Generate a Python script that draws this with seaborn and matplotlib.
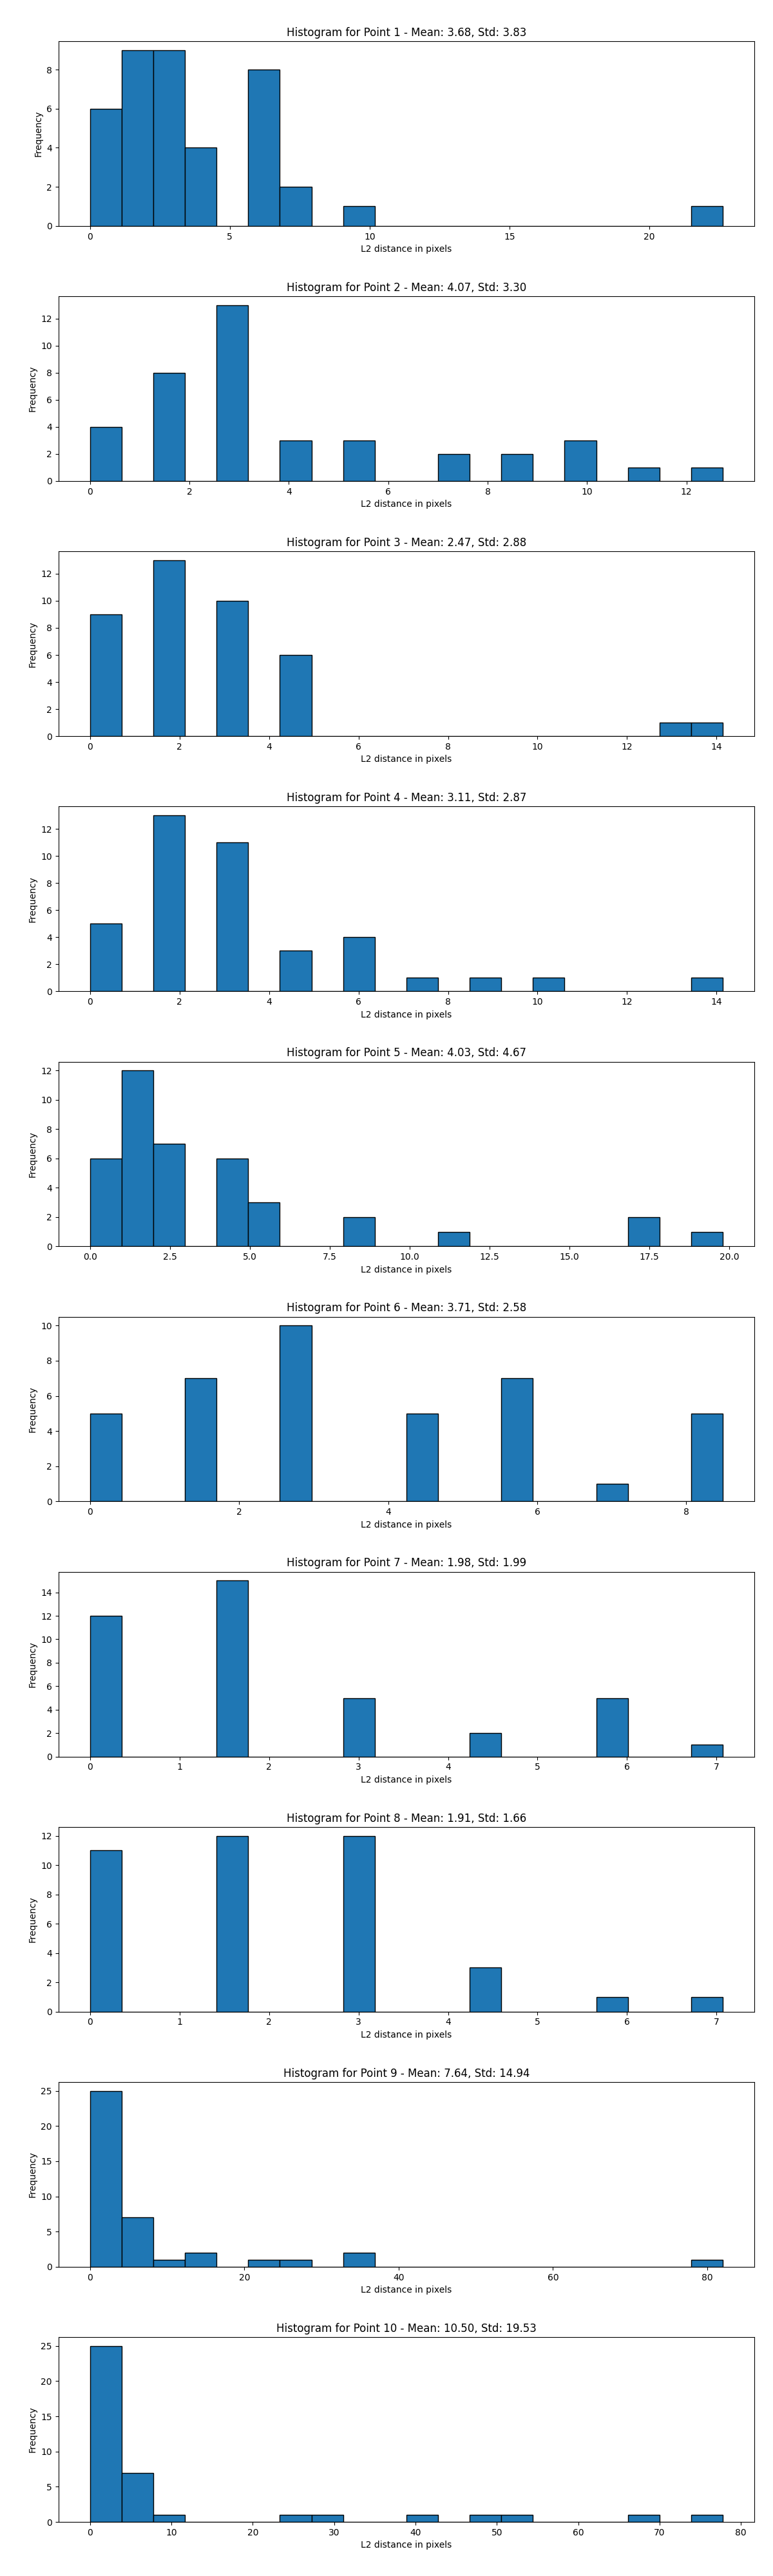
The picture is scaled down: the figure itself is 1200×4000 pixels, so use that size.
import numpy as np
import pandas as pd
import seaborn as sns
import matplotlib
matplotlib.use("Agg")
import matplotlib.pyplot as plt

# counts per bin (20 equal bins from 0 to the max distance of each point)
POINT_NAMES = [f"Point {i}" for i in range(1, 11)]
MEANS = [3.68, 4.07, 2.47, 3.11, 4.03, 3.71, 1.98, 1.91, 7.64, 10.50]
STDS = [3.83, 3.30, 2.88, 2.87, 4.67, 2.58, 1.99, 1.66, 14.94, 19.53]
MAX_DIST = [22.63, 12.73, 14.14, 14.14, 19.80, 8.49, 7.07, 7.07, 82.02, 77.78]

counts_p1 = [6, 9, 9, 4, 0, 8, 2, 0, 1, 0, 0, 0, 0, 0, 0, 0, 0, 0, 0, 1]
counts_p2 = [4, 0, 8, 0, 13, 0, 3, 0, 3, 0, 0, 2, 0, 2, 0, 3, 0, 1, 0, 1]
counts_p3 = [9, 0, 13, 0, 10, 0, 6, 0, 0, 0, 0, 0, 0, 0, 0, 0, 0, 0, 1, 1]
counts_p4 = [5, 0, 13, 0, 11, 0, 3, 0, 4, 0, 1, 0, 1, 0, 1, 0, 0, 0, 0, 1]
counts_p5 = [6, 12, 7, 0, 6, 3, 0, 0, 2, 0, 0, 1, 0, 0, 0, 0, 0, 2, 0, 1]
counts_p6 = [5, 0, 0, 7, 0, 0, 10, 0, 0, 0, 5, 0, 0, 7, 0, 0, 1, 0, 0, 5]
counts_p7 = [12, 0, 0, 0, 15, 0, 0, 0, 5, 0, 0, 0, 2, 0, 0, 0, 5, 0, 0, 1]
counts_p8 = [11, 0, 0, 0, 12, 0, 0, 0, 12, 0, 0, 0, 3, 0, 0, 0, 1, 0, 0, 1]
counts_p9 = [25, 7, 1, 2, 0, 1, 1, 0, 2, 0, 0, 0, 0, 0, 0, 0, 0, 0, 0, 1]
counts_p10 = [25, 7, 1, 0, 0, 0, 1, 1, 0, 0, 1, 0, 1, 1, 0, 0, 0, 1, 0, 1]

ALL_COUNTS = [counts_p1, counts_p2, counts_p3, counts_p4, counts_p5,
              counts_p6, counts_p7, counts_p8, counts_p9, counts_p10]
N_BINS = 20


fig, axes = plt.subplots(len(ALL_COUNTS), 1, figsize=(12, 40))

for ax, name, mean, std, max_d, counts in zip(axes, POINT_NAMES, MEANS, STDS, MAX_DIST, ALL_COUNTS):
    edges = np.linspace(0, max_d, N_BINS + 1)
    df = pd.DataFrame({
        "dist": (edges[:-1] + edges[1:]) / 2,
        "count": counts,
    })
    sns.histplot(
        data=df,
        x="dist",
        weights="count",
        bins=N_BINS,
        binrange=(0, max_d),
        color="#1f77b4",
        edgecolor="black",
        linewidth=1,
        alpha=1,
        ax=ax,
    )
    ax.set_title(f"Histogram for {name} - Mean: {mean:.2f}, Std: {std:.2f}")
    ax.set_xlabel("L2 distance in pixels")
    ax.set_ylabel("Frequency")

plt.subplots_adjust(left=0.0755, right=0.976, top=0.984, bottom=0.021, hspace=0.381)
plt.savefig("out.png", dpi=100)
plt.close()
